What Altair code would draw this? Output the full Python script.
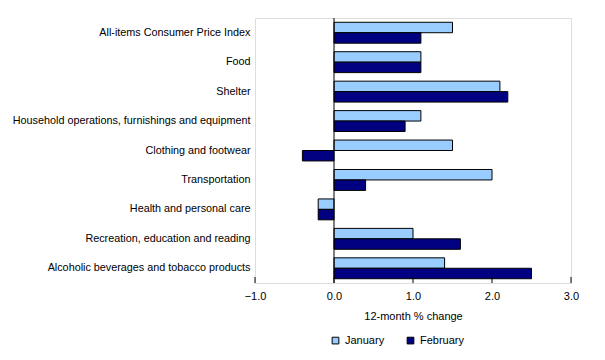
import altair as alt
import pandas as pd

categories = [
    "All-items Consumer Price Index",
    "Food",
    "Shelter",
    "Household operations, furnishings and equipment",
    "Clothing and footwear",
    "Transportation",
    "Health and personal care",
    "Recreation, education and reading",
    "Alcoholic beverages and tobacco products",
]
january = [1.5, 1.1, 2.1, 1.1, 1.5, 2.0, -0.2, 1.0, 1.4]
february = [1.1, 1.1, 2.2, 0.9, -0.4, 0.4, -0.2, 1.6, 2.5]
series = ["January", "February"]
colors = ["#99CCFF", "#000080"]
x_ticks = [-1.0, 0.0, 1.0, 2.0, 3.0]

rows = []
for c, j, f in zip(categories, january, february):
    rows.append({"category": c, "series": "January", "value": j})
    rows.append({"category": c, "series": "February", "value": f})
df = pd.DataFrame(rows)
ticks_df = pd.DataFrame({"t": x_ticks})

FONT = "Liberation Sans"
W, H = 316, 265

xscale = alt.Scale(domain=[-1, 3], nice=False, zero=False)

bars = alt.Chart(df).mark_bar(stroke="black", strokeWidth=1).encode(
    y=alt.Y("category:N", sort=categories,
            scale=alt.Scale(paddingInner=0.29, paddingOuter=0.145),
            axis=alt.Axis(title=None, ticks=False, domain=False, labelPadding=5,
                          labelFont=FONT, labelFontSize=10.8, labelColor="black",
                          labelLimit=400)),
    yOffset=alt.YOffset("series:N", sort=series,
                        scale=alt.Scale(paddingInner=0, paddingOuter=0)),
    x=alt.X("value:Q", scale=xscale,
            axis=alt.Axis(values=x_ticks, format=".1f", grid=False, ticks=False,
                          domain=False, labelPadding=7, labelFont=FONT,
                          labelFontSize=11, labelColor="black", labelFlush=False,
                          title="12-month % change", titleFont=FONT,
                          titleFontSize=11, titleFontWeight="normal",
                          titleColor="black", titlePadding=9)),
    color=alt.Color("series:N", sort=series,
                    scale=alt.Scale(domain=series, range=colors),
                    legend=alt.Legend(title=None, orient="none", direction="horizontal",
                                      legendX=75, legendY=317, symbolType="square",
                                      symbolSize=45, symbolStrokeColor="black",
                                      symbolStrokeWidth=1, labelFont=FONT,
                                      labelFontSize=11, labelColor="black",
                                      columnPadding=20, symbolOpacity=1)),
)

zero_rule = alt.Chart(pd.DataFrame({"z": [0.0]})).mark_rule(
    color="black", strokeWidth=1
).encode(x=alt.X("z:Q", scale=xscale))

tick_rules = alt.Chart(ticks_df).mark_rule(color="black", strokeWidth=1).encode(
    x=alt.X("t:Q", scale=xscale),
    y=alt.value(H - 6),
    y2=alt.value(H),
)

chart = alt.layer(bars, zero_rule, tick_rules).properties(
    width=W, height=H,
    autosize=alt.AutoSizeParams(type="none"),
    padding={"left": 247, "top": 10, "right": 26, "bottom": 70},
).configure_view(stroke="black", strokeWidth=1).configure(background="white")

chart.save("out.html", embed_options={"renderer": "svg", "actions": False})
